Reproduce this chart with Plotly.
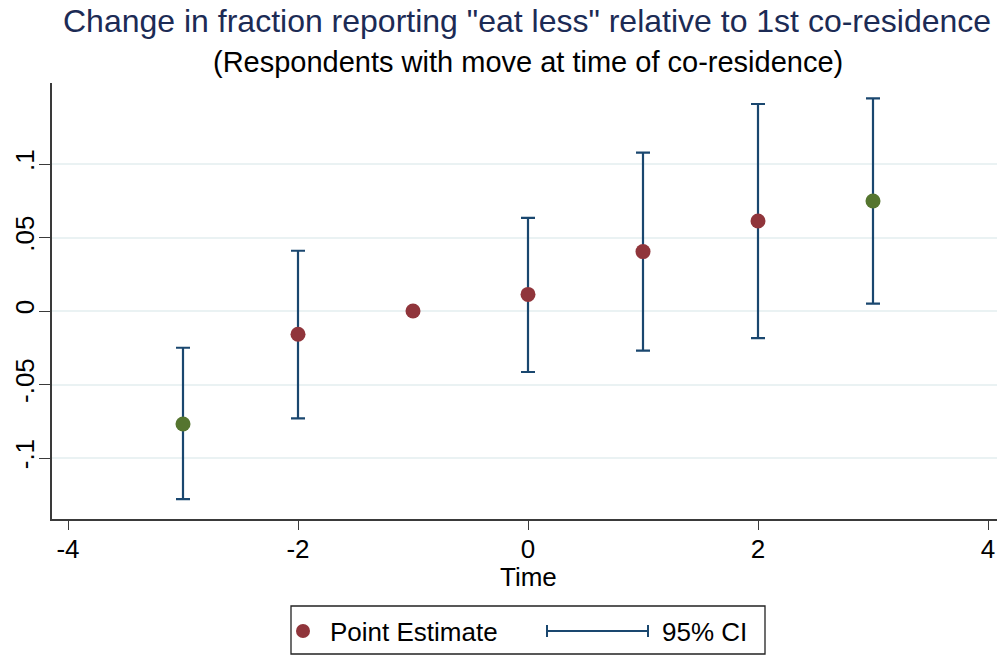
import plotly.graph_objects as go

# Event-time coefficients relative to first co-residence (t = -1 is the omitted period)
time = [-3, -2, -1, 0, 1, 2, 3]
estimate = [-0.0769, -0.0158, 0.0, 0.0113, 0.0404, 0.0612, 0.0748]
ci_low = [-0.128, -0.073, None, -0.0415, -0.027, -0.0184, 0.0050]
ci_high = [-0.025, 0.041, None, 0.0633, 0.1077, 0.1408, 0.1447]

x_ticks = [-4, -2, 0, 2, 4]
y_ticks = [-0.1, -0.05, 0, 0.05, 0.1]
y_tick_text = ["-.1", "-.05", "0", ".05", ".1"]

TITLE = 'Change in fraction reporting "eat less" relative to 1st co-residence'
SUBTITLE = "(Respondents with move at time of co-residence)"
X_TITLE = "Time"

FONT = "Liberation Sans, Arial, Helvetica, sans-serif"
NAVY = "#1A476F"
MAROON = "#90353B"
OLIVE = "#55752F"
GRID = "#EAF2F3"
AXIS = "#3A3A3A"

# Significant estimates (CI excludes zero) are highlighted in green
point_colors = []
for lo, hi in zip(ci_low, ci_high):
    if lo is not None and (lo > 0 or hi < 0):
        point_colors.append(OLIVE)
    else:
        point_colors.append(MAROON)

ci_x = [t for t, lo in zip(time, ci_low) if lo is not None]
ci_est = [e for e, lo in zip(estimate, ci_low) if lo is not None]
ci_plus = [hi - e for e, lo, hi in zip(estimate, ci_low, ci_high) if lo is not None]
ci_minus = [e - lo for e, lo in zip(estimate, ci_low) if lo is not None]

fig = go.Figure()

fig.add_trace(go.Scatter(
    x=ci_x, y=ci_est, mode="markers",
    marker=dict(size=1, color="rgba(0,0,0,0)"),
    error_y=dict(type="data", symmetric=False, array=ci_plus, arrayminus=ci_minus,
                 color=NAVY, thickness=2.2, width=7),
    showlegend=False, hoverinfo="skip",
))

fig.add_trace(go.Scatter(
    x=time, y=estimate, mode="markers",
    marker=dict(size=15, color=point_colors, line=dict(width=0)),
    showlegend=False,
))

# Reference line at zero
fig.add_shape(type="line", xref="paper", yref="y", x0=0, x1=1, y0=0, y1=0,
              line=dict(color="#FF0000", width=2), layer="below")

# Hand-built legend box below the axis
L, W, B, H = 52, 945, 519, 436


def px(xp):
    return (xp - L) / W


def py(yp):
    return (B - yp) / H


fig.add_shape(type="rect", xref="paper", yref="paper",
              x0=px(291), x1=px(765), y0=py(654), y1=py(606),
              line=dict(color="#222222", width=1.3), fillcolor="white")
fig.add_shape(type="circle", xref="paper", yref="paper",
              x0=px(296), x1=px(310), y0=py(638), y1=py(624),
              line=dict(width=0), fillcolor=MAROON)
fig.add_shape(type="line", xref="paper", yref="paper",
              x0=px(547), x1=px(648), y0=py(631), y1=py(631),
              line=dict(color=NAVY, width=2))
for cx in (547, 648):
    fig.add_shape(type="line", xref="paper", yref="paper",
                  x0=px(cx), x1=px(cx), y0=py(625), y1=py(637),
                  line=dict(color=NAVY, width=2))
fig.add_annotation(xref="paper", yref="paper", x=px(328), y=py(632),
                   text="Point Estimate", showarrow=False, xanchor="left", yanchor="middle",
                   font=dict(family=FONT, size=26, color="black"))
fig.add_annotation(xref="paper", yref="paper", x=px(660), y=py(632),
                   text="95% CI", showarrow=False, xanchor="left", yanchor="middle",
                   font=dict(family=FONT, size=26, color="black"))

# Titles
fig.add_annotation(xref="paper", yref="paper", x=px(527), y=py(21),
                   text=TITLE, showarrow=False, xanchor="center", yanchor="middle",
                   font=dict(family=FONT, size=32, color="#1C2B55"))
fig.add_annotation(xref="paper", yref="paper", x=px(528), y=py(62),
                   text=SUBTITLE, showarrow=False, xanchor="center", yanchor="middle",
                   font=dict(family=FONT, size=29, color="black"))
fig.add_annotation(xref="paper", yref="paper", x=px(528), y=py(577),
                   text=X_TITLE, showarrow=False, xanchor="center", yanchor="middle",
                   font=dict(family=FONT, size=26, color="black"))

fig.update_layout(
    width=997, height=656,
    margin=dict(l=L, r=0, t=83, b=137),
    paper_bgcolor="white", plot_bgcolor="white",
    font=dict(family=FONT, size=26, color="black"),
    showlegend=False,
    xaxis=dict(
        range=[-4 - 16 / 115, 4 + 9 / 115],
        tickvals=x_ticks, ticktext=[str(v) for v in x_ticks],
        ticks="outside", ticklen=9, tickwidth=1.3, tickcolor=AXIS,
        ticklabelstandoff=-3,
        showline=True, linecolor=AXIS, linewidth=1.5,
        showgrid=False, zeroline=False,
        tickfont=dict(family=FONT, size=26),
    ),
    yaxis=dict(
        range=[-(519 - 311) / 1470, (311 - 83) / 1470],
        tickvals=y_ticks, ticktext=y_tick_text, tickangle=-90,
        ticks="outside", ticklen=11, tickwidth=1.3, tickcolor=AXIS,
        ticklabelstandoff=-5,
        showline=True, linecolor=AXIS, linewidth=1.5,
        showgrid=True, gridcolor=GRID, gridwidth=1.5, zeroline=False,
        tickfont=dict(family=FONT, size=26),
    ),
)

fig.write_html("out.html")
